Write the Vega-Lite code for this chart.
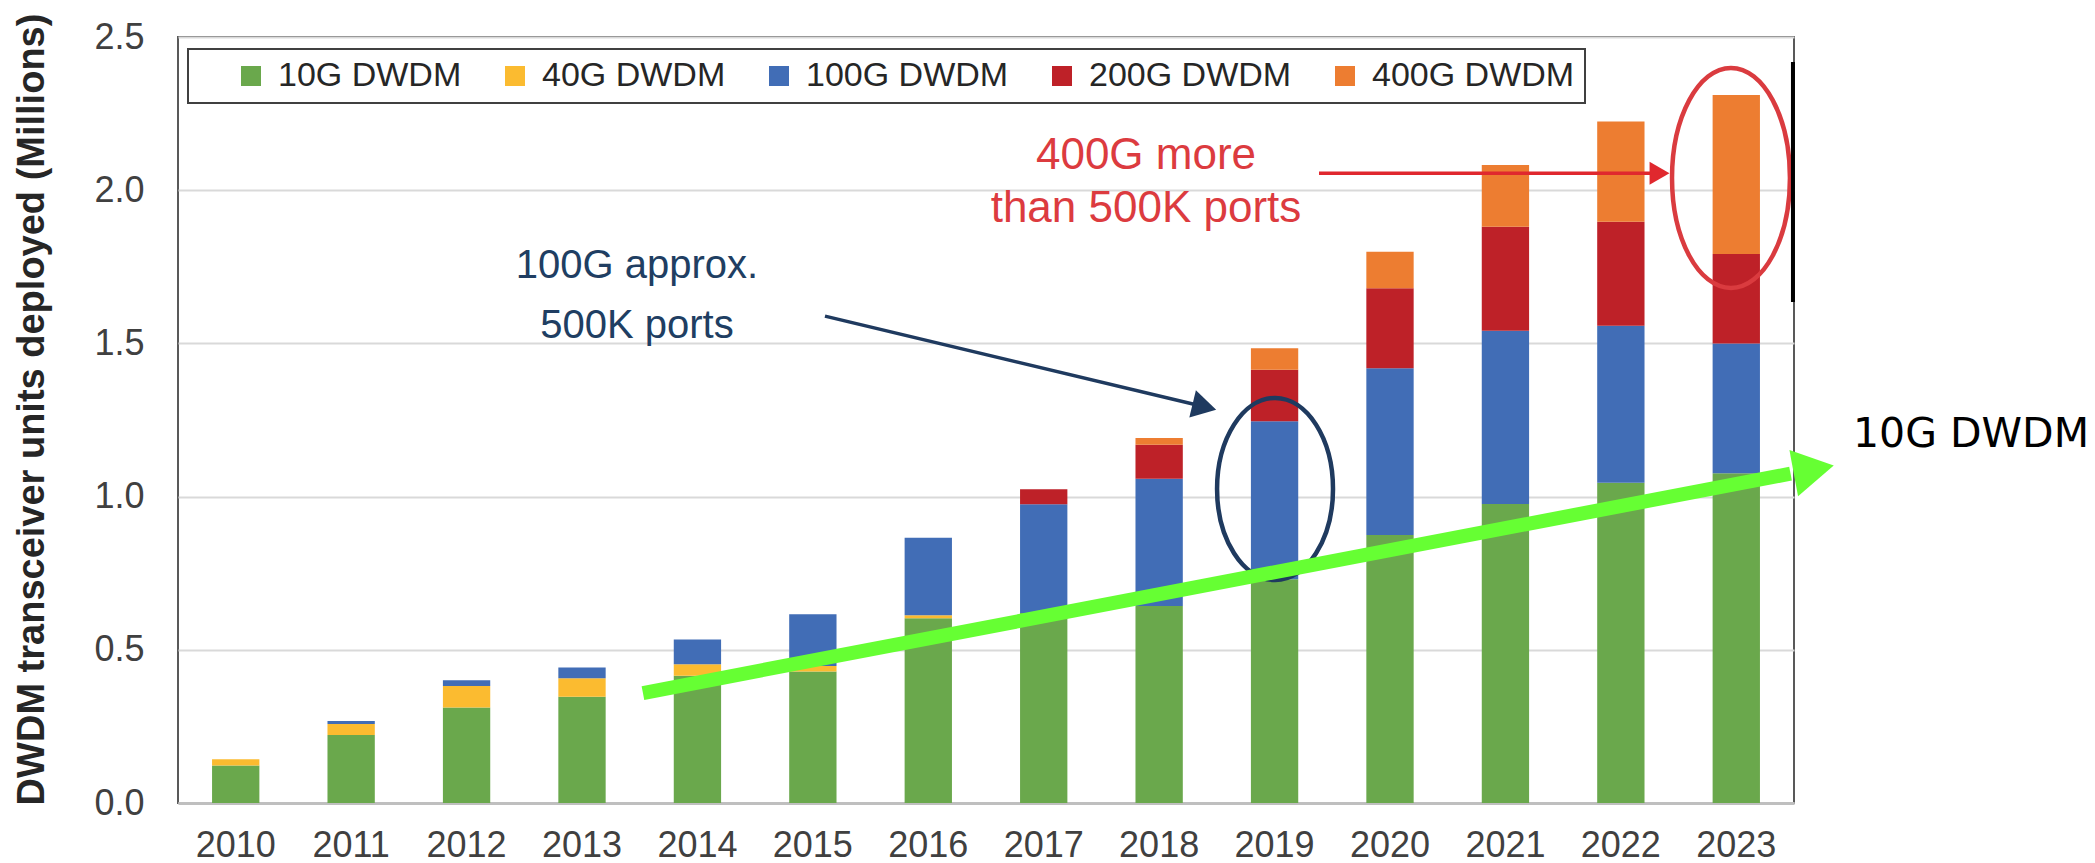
{
  "$schema": "https://vega.github.io/schema/vega-lite/v6.json",
  "width": 1616,
  "height": 766,
  "autosize": {"type": "none"},
  "padding": {"left": 178, "top": 37, "right": 301, "bottom": 60},
  "background": "white",
  "config": {
    "font": "Liberation Sans",
    "view": {"stroke": "#595959", "strokeWidth": 2},
    "legend": {"strokeWidth": 2}
  },
  "layer": [
    {
      "data": {
        "values": [
          {"year": "2010", "tech": "10G DWDM", "gbps": 10, "value": 0.122},
          {"year": "2010", "tech": "40G DWDM", "gbps": 40, "value": 0.021},
          {"year": "2011", "tech": "10G DWDM", "gbps": 10, "value": 0.222},
          {"year": "2011", "tech": "40G DWDM", "gbps": 40, "value": 0.036},
          {"year": "2011", "tech": "100G DWDM", "gbps": 100, "value": 0.010},
          {"year": "2012", "tech": "10G DWDM", "gbps": 10, "value": 0.312},
          {"year": "2012", "tech": "40G DWDM", "gbps": 40, "value": 0.070},
          {"year": "2012", "tech": "100G DWDM", "gbps": 100, "value": 0.019},
          {"year": "2013", "tech": "10G DWDM", "gbps": 10, "value": 0.347},
          {"year": "2013", "tech": "40G DWDM", "gbps": 40, "value": 0.060},
          {"year": "2013", "tech": "100G DWDM", "gbps": 100, "value": 0.035},
          {"year": "2014", "tech": "10G DWDM", "gbps": 10, "value": 0.415},
          {"year": "2014", "tech": "40G DWDM", "gbps": 40, "value": 0.038},
          {"year": "2014", "tech": "100G DWDM", "gbps": 100, "value": 0.081},
          {"year": "2015", "tech": "10G DWDM", "gbps": 10, "value": 0.429},
          {"year": "2015", "tech": "40G DWDM", "gbps": 40, "value": 0.018},
          {"year": "2015", "tech": "100G DWDM", "gbps": 100, "value": 0.169},
          {"year": "2016", "tech": "10G DWDM", "gbps": 10, "value": 0.603},
          {"year": "2016", "tech": "40G DWDM", "gbps": 40, "value": 0.010},
          {"year": "2016", "tech": "100G DWDM", "gbps": 100, "value": 0.253},
          {"year": "2017", "tech": "10G DWDM", "gbps": 10, "value": 0.620},
          {"year": "2017", "tech": "100G DWDM", "gbps": 100, "value": 0.355},
          {"year": "2017", "tech": "200G DWDM", "gbps": 200, "value": 0.049},
          {"year": "2018", "tech": "10G DWDM", "gbps": 10, "value": 0.643},
          {"year": "2018", "tech": "100G DWDM", "gbps": 100, "value": 0.415},
          {"year": "2018", "tech": "200G DWDM", "gbps": 200, "value": 0.111},
          {"year": "2018", "tech": "400G DWDM", "gbps": 400, "value": 0.022},
          {"year": "2019", "tech": "10G DWDM", "gbps": 10, "value": 0.730},
          {"year": "2019", "tech": "100G DWDM", "gbps": 100, "value": 0.516},
          {"year": "2019", "tech": "200G DWDM", "gbps": 200, "value": 0.168},
          {"year": "2019", "tech": "400G DWDM", "gbps": 400, "value": 0.070},
          {"year": "2020", "tech": "10G DWDM", "gbps": 10, "value": 0.875},
          {"year": "2020", "tech": "100G DWDM", "gbps": 100, "value": 0.544},
          {"year": "2020", "tech": "200G DWDM", "gbps": 200, "value": 0.261},
          {"year": "2020", "tech": "400G DWDM", "gbps": 400, "value": 0.119},
          {"year": "2021", "tech": "10G DWDM", "gbps": 10, "value": 0.976},
          {"year": "2021", "tech": "100G DWDM", "gbps": 100, "value": 0.565},
          {"year": "2021", "tech": "200G DWDM", "gbps": 200, "value": 0.340},
          {"year": "2021", "tech": "400G DWDM", "gbps": 400, "value": 0.201},
          {"year": "2022", "tech": "10G DWDM", "gbps": 10, "value": 1.045},
          {"year": "2022", "tech": "100G DWDM", "gbps": 100, "value": 0.513},
          {"year": "2022", "tech": "200G DWDM", "gbps": 200, "value": 0.339},
          {"year": "2022", "tech": "400G DWDM", "gbps": 400, "value": 0.327},
          {"year": "2023", "tech": "10G DWDM", "gbps": 10, "value": 1.076},
          {"year": "2023", "tech": "100G DWDM", "gbps": 100, "value": 0.424},
          {"year": "2023", "tech": "200G DWDM", "gbps": 200, "value": 0.292},
          {"year": "2023", "tech": "400G DWDM", "gbps": 400, "value": 0.519}
        ]
      },
      "mark": {"type": "bar"},
      "encoding": {
        "x": {
          "field": "year",
          "type": "nominal",
          "scale": {"paddingInner": 0.59, "paddingOuter": 0.295},
          "axis": {
            "title": null,
            "labelAngle": 0,
            "labelFontSize": 36,
            "labelColor": "#404040",
            "labelPadding": 25,
            "ticks": false,
            "tickSize": 0,
            "domainColor": "#BFBFBF",
            "domainWidth": 3
          }
        },
        "y": {
          "field": "value",
          "type": "quantitative",
          "stack": "zero",
          "scale": {"domain": [0, 2.5], "nice": false},
          "axis": {
            "title": "DWDM transceiver units deployed (Millions)",
            "values": [0, 0.5, 1, 1.5, 2, 2.5],
            "format": ".1f",
            "labelFontSize": 36,
            "labelColor": "#404040",
            "labelPadding": 34,
            "ticks": false,
            "tickSize": 0,
            "domain": false,
            "gridColor": "#D9D9D9",
            "gridWidth": 2,
            "titleFontSize": 38,
            "titleFontWeight": "bold",
            "titleColor": "#262626",
            "titleAngle": -90,
            "titleAlign": "center",
            "titleBaseline": "alphabetic",
            "titleX": -135,
            "titleY": 372
          }
        },
        "color": {
          "field": "tech",
          "type": "nominal",
          "scale": {
            "domain": ["10G DWDM", "40G DWDM", "100G DWDM", "200G DWDM", "400G DWDM"],
            "range": ["#6AA84C", "#FBBB30", "#416DB6", "#BE2128", "#ED7D31"]
          },
          "legend": {
            "orient": "none",
            "legendX": 10,
            "legendY": 12,
            "direction": "horizontal",
            "title": " ",
            "titleOrient": "left",
            "titleFontSize": 34,
            "titlePadding": 36,
            "symbolType": "square",
            "symbolSize": 400,
            "symbolStrokeWidth": 0,
            "symbolOpacity": 1,
            "labelFontSize": 34,
            "labelColor": "#262626",
            "labelOffset": 10,
            "labelLimit": 400,
            "columnPadding": 36,
            "padding": 10,
            "strokeColor": "#404040",
            "fillColor": "white"
          }
        },
        "order": {"field": "gbps", "type": "quantitative", "sort": "ascending"}
      }
    },
    {
      "layer": [
        {
          "data": {"values": [{"yr": 2019.004, "v": 1.025}]},
          "mark": {
            "type": "point",
            "shape": "M0,-1C0.352,-1,0.637,-0.552,0.637,0C0.637,0.552,0.352,1,0,1C-0.352,1,-0.637,0.552,-0.637,0C-0.637,-0.552,-0.352,-1,0,-1Z",
            "size": 33124,
            "filled": false,
            "stroke": "#1F3A5F",
            "strokeWidth": 4.5,
            "opacity": 1
          },
          "encoding": {
            "x": {"field": "yr", "type": "quantitative", "scale": {"domain": [2009.5, 2023.5], "nice": false, "zero": false}, "axis": null},
            "y": {"field": "v", "type": "quantitative", "scale": {"domain": [0, 2.5], "nice": false}}
          }
        },
        {
          "data": {"values": [{"yr": 2022.954, "v": 2.040}]},
          "mark": {
            "type": "point",
            "shape": "M0,-1C0.296,-1,0.536,-0.552,0.536,0C0.536,0.552,0.296,1,0,1C-0.296,1,-0.536,0.552,-0.536,0C-0.536,-0.552,-0.296,-1,0,-1Z",
            "size": 48400,
            "filled": false,
            "stroke": "#DA3B3F",
            "strokeWidth": 4.5,
            "opacity": 1
          },
          "encoding": {
            "x": {"field": "yr", "type": "quantitative", "scale": {"domain": [2009.5, 2023.5], "nice": false, "zero": false}, "axis": null},
            "y": {"field": "v", "type": "quantitative", "scale": {"domain": [0, 2.5], "nice": false}}
          }
        },
        {
          "data": {"values": [{"yr": 2023.491, "v": 2.418, "yrb": 2023.491, "vb": 1.635}]},
          "mark": {"type": "rule", "color": "#000000", "strokeWidth": 4},
          "encoding": {
            "x": {"field": "yr", "type": "quantitative", "scale": {"domain": [2009.5, 2023.5], "nice": false, "zero": false}, "axis": null},
            "y": {"field": "v", "type": "quantitative", "scale": {"domain": [0, 2.5], "nice": false}},
            "x2": {"field": "yrb"},
            "y2": {"field": "vb"}
          }
        },
        {
          "data": {"values": [{"yr": 2015.105, "v": 1.589, "yrb": 2018.392, "vb": 1.293}]},
          "mark": {"type": "rule", "color": "#1F3A5F", "strokeWidth": 3.5},
          "encoding": {
            "x": {"field": "yr", "type": "quantitative", "scale": {"domain": [2009.5, 2023.5], "nice": false, "zero": false}, "axis": null},
            "y": {"field": "v", "type": "quantitative", "scale": {"domain": [0, 2.5], "nice": false}},
            "x2": {"field": "yrb"},
            "y2": {"field": "vb"}
          }
        },
        {
          "data": {"values": [{"yr": 2018.392, "v": 1.293}]},
          "mark": {"type": "point", "shape": "triangle-right", "size": 784, "filled": true, "color": "#1F3A5F", "angle": 13.6, "opacity": 1},
          "encoding": {
            "x": {"field": "yr", "type": "quantitative", "scale": {"domain": [2009.5, 2023.5], "nice": false, "zero": false}, "axis": null},
            "y": {"field": "v", "type": "quantitative", "scale": {"domain": [0, 2.5], "nice": false}}
          }
        },
        {
          "data": {"values": [{"yr": 2019.385, "v": 2.055, "yrb": 2022.335, "vb": 2.055}]},
          "mark": {"type": "rule", "color": "#E0282E", "strokeWidth": 3.5},
          "encoding": {
            "x": {"field": "yr", "type": "quantitative", "scale": {"domain": [2009.5, 2023.5], "nice": false, "zero": false}, "axis": null},
            "y": {"field": "v", "type": "quantitative", "scale": {"domain": [0, 2.5], "nice": false}},
            "x2": {"field": "yrb"},
            "y2": {"field": "vb"}
          }
        },
        {
          "data": {"values": [{"yr": 2022.335, "v": 2.055}]},
          "mark": {"type": "point", "shape": "triangle-right", "size": 529, "filled": true, "color": "#E0282E", "opacity": 1},
          "encoding": {
            "x": {"field": "yr", "type": "quantitative", "scale": {"domain": [2009.5, 2023.5], "nice": false, "zero": false}, "axis": null},
            "y": {"field": "v", "type": "quantitative", "scale": {"domain": [0, 2.5], "nice": false}}
          }
        },
        {
          "data": {"values": [
            {"yr": 2013.476, "v": 1.712, "t": "100G approx."},
            {"yr": 2013.476, "v": 1.519, "t": "500K ports"}
          ]},
          "mark": {"type": "text", "font": "Liberation Sans", "fontSize": 40, "color": "#203E62", "align": "center", "baseline": "alphabetic"},
          "encoding": {
            "x": {"field": "yr", "type": "quantitative", "scale": {"domain": [2009.5, 2023.5], "nice": false, "zero": false}, "axis": null},
            "y": {"field": "v", "type": "quantitative", "scale": {"domain": [0, 2.5], "nice": false}},
            "text": {"field": "t"}
          }
        },
        {
          "data": {"values": [
            {"yr": 2017.886, "v": 2.070, "t": "400G more"},
            {"yr": 2017.886, "v": 1.897, "t": "than 500K ports"}
          ]},
          "mark": {"type": "text", "font": "Liberation Sans", "fontSize": 44, "color": "#DC3B3F", "align": "center", "baseline": "alphabetic"},
          "encoding": {
            "x": {"field": "yr", "type": "quantitative", "scale": {"domain": [2009.5, 2023.5], "nice": false, "zero": false}, "axis": null},
            "y": {"field": "v", "type": "quantitative", "scale": {"domain": [0, 2.5], "nice": false}},
            "text": {"field": "t"}
          }
        },
        {
          "data": {"values": [{"yr": 2013.528, "v": 0.359, "yrb": 2023.47, "vb": 1.075}]},
          "mark": {"type": "rule", "color": "#66FF33", "strokeWidth": 14, "strokeCap": "butt"},
          "encoding": {
            "x": {"field": "yr", "type": "quantitative", "scale": {"domain": [2009.5, 2023.5], "nice": false, "zero": false}, "axis": null},
            "y": {"field": "v", "type": "quantitative", "scale": {"domain": [0, 2.5], "nice": false}},
            "x2": {"field": "yrb"},
            "y2": {"field": "vb"}
          }
        },
        {
          "data": {"values": [{"yr": 2023.671, "v": 1.089}]},
          "mark": {"type": "point", "shape": "triangle-right", "size": 2209, "filled": true, "color": "#66FF33", "angle": -10.6, "opacity": 1},
          "encoding": {
            "x": {"field": "yr", "type": "quantitative", "scale": {"domain": [2009.5, 2023.5], "nice": false, "zero": false}, "axis": null},
            "y": {"field": "v", "type": "quantitative", "scale": {"domain": [0, 2.5], "nice": false}}
          }
        },
        {
          "data": {"values": [{"yr": 2024.011, "v": 1.163, "t": "10G DWDM"}]},
          "mark": {"type": "text", "font": "DejaVu Sans", "fontSize": 41, "color": "#000000", "align": "left", "baseline": "alphabetic"},
          "encoding": {
            "x": {"field": "yr", "type": "quantitative", "scale": {"domain": [2009.5, 2023.5], "nice": false, "zero": false}, "axis": null},
            "y": {"field": "v", "type": "quantitative", "scale": {"domain": [0, 2.5], "nice": false}},
            "text": {"field": "t"}
          }
        }
      ]
    }
  ],
  "resolve": {"scale": {"x": "independent"}}
}
